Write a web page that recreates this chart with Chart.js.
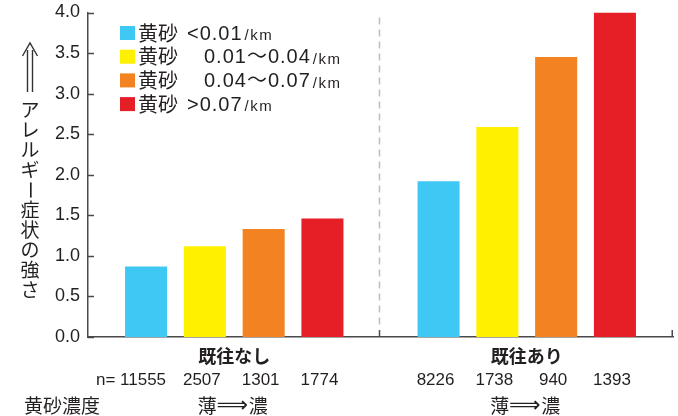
<!DOCTYPE html>
<html>
<head>
<meta charset="utf-8">
<script src="https://cdn.jsdelivr.net/npm/chart.js@4/dist/chart.umd.min.js"></script>
<style>
  html, body { margin: 0; padding: 0; background: #ffffff; }
  #wrap { width: 678px; height: 416px; position: relative; }
</style>
</head>
<body>
<div id="wrap"><canvas id="c" width="678" height="416"></canvas></div>
<script>
// Groups on the x axis (with / without prior allergy history)
const groups = ['既往なし', '既往あり'];
// Yellow-dust concentration classes (legend)
const dustKey = '黄砂';
const dustLabels = ['<0.01', '0.01〜0.04', '0.04〜0.07', '>0.07'];
const dustUnit = '/km';
const dustColors = ['#40C8F4', '#FFF000', '#F38321', '#E61F27'];
// Allergy symptom strength per dust class
const severityNoHistory = [0.87, 1.12, 1.33, 1.46];
const severityWithHistory = [1.92, 2.59, 3.45, 4.0];
// Number of subjects per dust class
const countsNoHistory = [11555, 2507, 1301, 1774];
const countsWithHistory = [8226, 1738, 940, 1393];
// Value axis
const yMin = 0, yMax = 4, yStep = 0.5;
// Texts around the plot
const yTitleText = 'アレルギー症状の強さ';
const concentrationTitle = '黄砂濃度';
const thinWord = '薄';
const thickWord = '濃';
const directionArrow = '⟹';

const INK = '#231F20';
const AXIS = '#4A4A4A';
const CJK = '"Noto Sans CJK JP", "Noto Sans CJK SC", sans-serif';
const LATIN = '"Liberation Sans", Arial, "Noto Sans CJK JP", sans-serif';

const datasets = dustLabels.map((lbl, i) => ({
  label: dustKey + ' ' + lbl + dustUnit,
  data: [severityNoHistory[i], severityWithHistory[i]],
  backgroundColor: dustColors[i],
  borderWidth: 0,
  barPercentage: 0.715,
  categoryPercentage: 0.804
}));

const decorations = {
  id: 'decorations',
  afterDatasetsDraw(chart) {
    const { ctx, chartArea: ca, scales: { x, y } } = chart;
    ctx.save();

    // dashed separator between the two groups
    const sepX = Math.round((x.getPixelForValue(0) + x.getPixelForValue(1)) / 2) - 1.5;
    ctx.strokeStyle = '#BDBDBD';
    ctx.lineWidth = 1.5;
    ctx.setLineDash([7, 5]);
    ctx.beginPath();
    ctx.moveTo(sepX, ca.top + 5);
    ctx.lineTo(sepX, ca.bottom - 8);
    ctx.stroke();
    ctx.setLineDash([]);

    // short upright marks on the bottom axis
    ctx.strokeStyle = AXIS;
    ctx.lineWidth = 1.5;
    [sepX, ca.right - 0.75].forEach(px => {
      ctx.beginPath();
      ctx.moveTo(px, ca.bottom);
      ctx.lineTo(px, ca.bottom - 7);
      ctx.stroke();
    });

    // inward tick marks on the value axis
    y.ticks.forEach(t => {
      const py = Math.round(y.getPixelForValue(t.value)) + 0.5;
      ctx.beginPath();
      ctx.moveTo(ca.left, py);
      ctx.lineTo(ca.left + 6, py);
      ctx.stroke();
    });

    // legend
    const lx = ca.left + 32;
    const ly0 = ca.top + 20.5;
    const lstep = 23.7;
    dustLabels.forEach((lbl, i) => {
      const cy = ly0 + i * lstep;
      ctx.fillStyle = dustColors[i];
      ctx.fillRect(lx, cy - 7, 15, 14);
      ctx.fillStyle = INK;
      ctx.textBaseline = 'middle';
      ctx.textAlign = 'left';
      ctx.letterSpacing = '0px';
      ctx.font = '20px ' + CJK;
      ctx.fillText(dustKey, lx + 18, cy);
      const nx = /^[<>]/.test(lbl) ? lx + 67 : lx + 84;
      ctx.font = '20px ' + LATIN;
      ctx.letterSpacing = '1px';
      ctx.fillText(lbl, nx, cy + 1);
      const w = ctx.measureText(lbl).width;
      ctx.font = '15px ' + LATIN;
      ctx.letterSpacing = '1.5px';
      ctx.fillText(dustUnit, nx + w + 2, cy + 3);
      ctx.letterSpacing = '0px';
    });

    // group labels under each category
    ctx.fillStyle = INK;
    ctx.textBaseline = 'middle';
    ctx.textAlign = 'center';
    ctx.font = 'bold 18px ' + CJK;
    groups.forEach((g, i) => ctx.fillText(g, x.getPixelForValue(i), ca.bottom + 19));

    // sample sizes under each bar
    ctx.font = '17px ' + LATIN;
    [countsNoHistory, countsWithHistory].forEach((arr, g) => {
      arr.forEach((n, i) => {
        const bar = chart.getDatasetMeta(i).data[g];
        ctx.fillText(String(n), bar.x - 3, ca.bottom + 43);
      });
    });
    ctx.textAlign = 'right';
    const firstBar = chart.getDatasetMeta(0).data[0];
    const firstW = ctx.measureText(String(countsNoHistory[0])).width;
    ctx.fillText('n= ', firstBar.x - 3 - firstW / 2, ca.bottom + 43);

    // concentration direction: thin => thick
    ctx.textAlign = 'center';
    ctx.font = '19px ' + CJK;
    ctx.fillText(concentrationTitle, 62, ca.bottom + 69);
    groups.forEach((g, i) => {
      const cx = x.getPixelForValue(i) - 2;
      ctx.font = '19px ' + CJK;
      ctx.fillText(thinWord, cx - 25, ca.bottom + 69);
      ctx.fillText(thickWord, cx + 26, ca.bottom + 69);
      ctx.font = '22px "DejaVu Sans", ' + CJK;
      ctx.fillText(directionArrow, cx, ca.bottom + 69);
    });

    // vertical axis title with upward double arrow
    const tx = 30;
    ctx.strokeStyle = '#333333';
    ctx.lineWidth = 1.4;
    ctx.beginPath();
    ctx.moveTo(27.5, 92); ctx.lineTo(27.5, 50);
    ctx.moveTo(32.5, 92); ctx.lineTo(32.5, 50);
    ctx.moveTo(22.5, 56); ctx.lineTo(30, 43); ctx.lineTo(37.5, 56);
    ctx.stroke();

    ctx.fillStyle = INK;
    ctx.font = '19px ' + CJK;
    ctx.textAlign = 'center';
    ctx.textBaseline = 'middle';
    Array.from(yTitleText).forEach((ch, i) => {
      const cy = 110 + i * 20;
      if (ch === 'ー') {
        ctx.save();
        ctx.translate(tx, cy);
        ctx.rotate(Math.PI / 2);
        ctx.fillText(ch, 0, 0);
        ctx.restore();
      } else {
        ctx.fillText(ch, tx, cy);
      }
    });

    ctx.restore();
  }
};

new Chart(document.getElementById('c'), {
  type: 'bar',
  data: { labels: groups, datasets },
  options: {
    responsive: false,
    animation: false,
    devicePixelRatio: 1,
    layout: { padding: { left: 0, right: 5, top: 12.5, bottom: 79 } },
    plugins: { legend: { display: false }, tooltip: { enabled: false } },
    scales: {
      x: {
        grid: { display: false, drawTicks: false },
        ticks: { display: false },
        border: { display: true, color: AXIS, width: 1.5 }
      },
      y: {
        min: yMin,
        max: yMax,
        ticks: {
          stepSize: yStep,
          callback: v => Number(v).toFixed(1),
          font: { family: LATIN, size: 18 },
          color: INK,
          padding: 0
        },
        grid: { display: false, drawTicks: true, tickLength: 8 },
        border: { display: true, color: AXIS, width: 1.5 },
        afterFit: s => { s.width = 88; }
      }
    }
  },
  plugins: [decorations]
});
</script>
</body>
</html>
